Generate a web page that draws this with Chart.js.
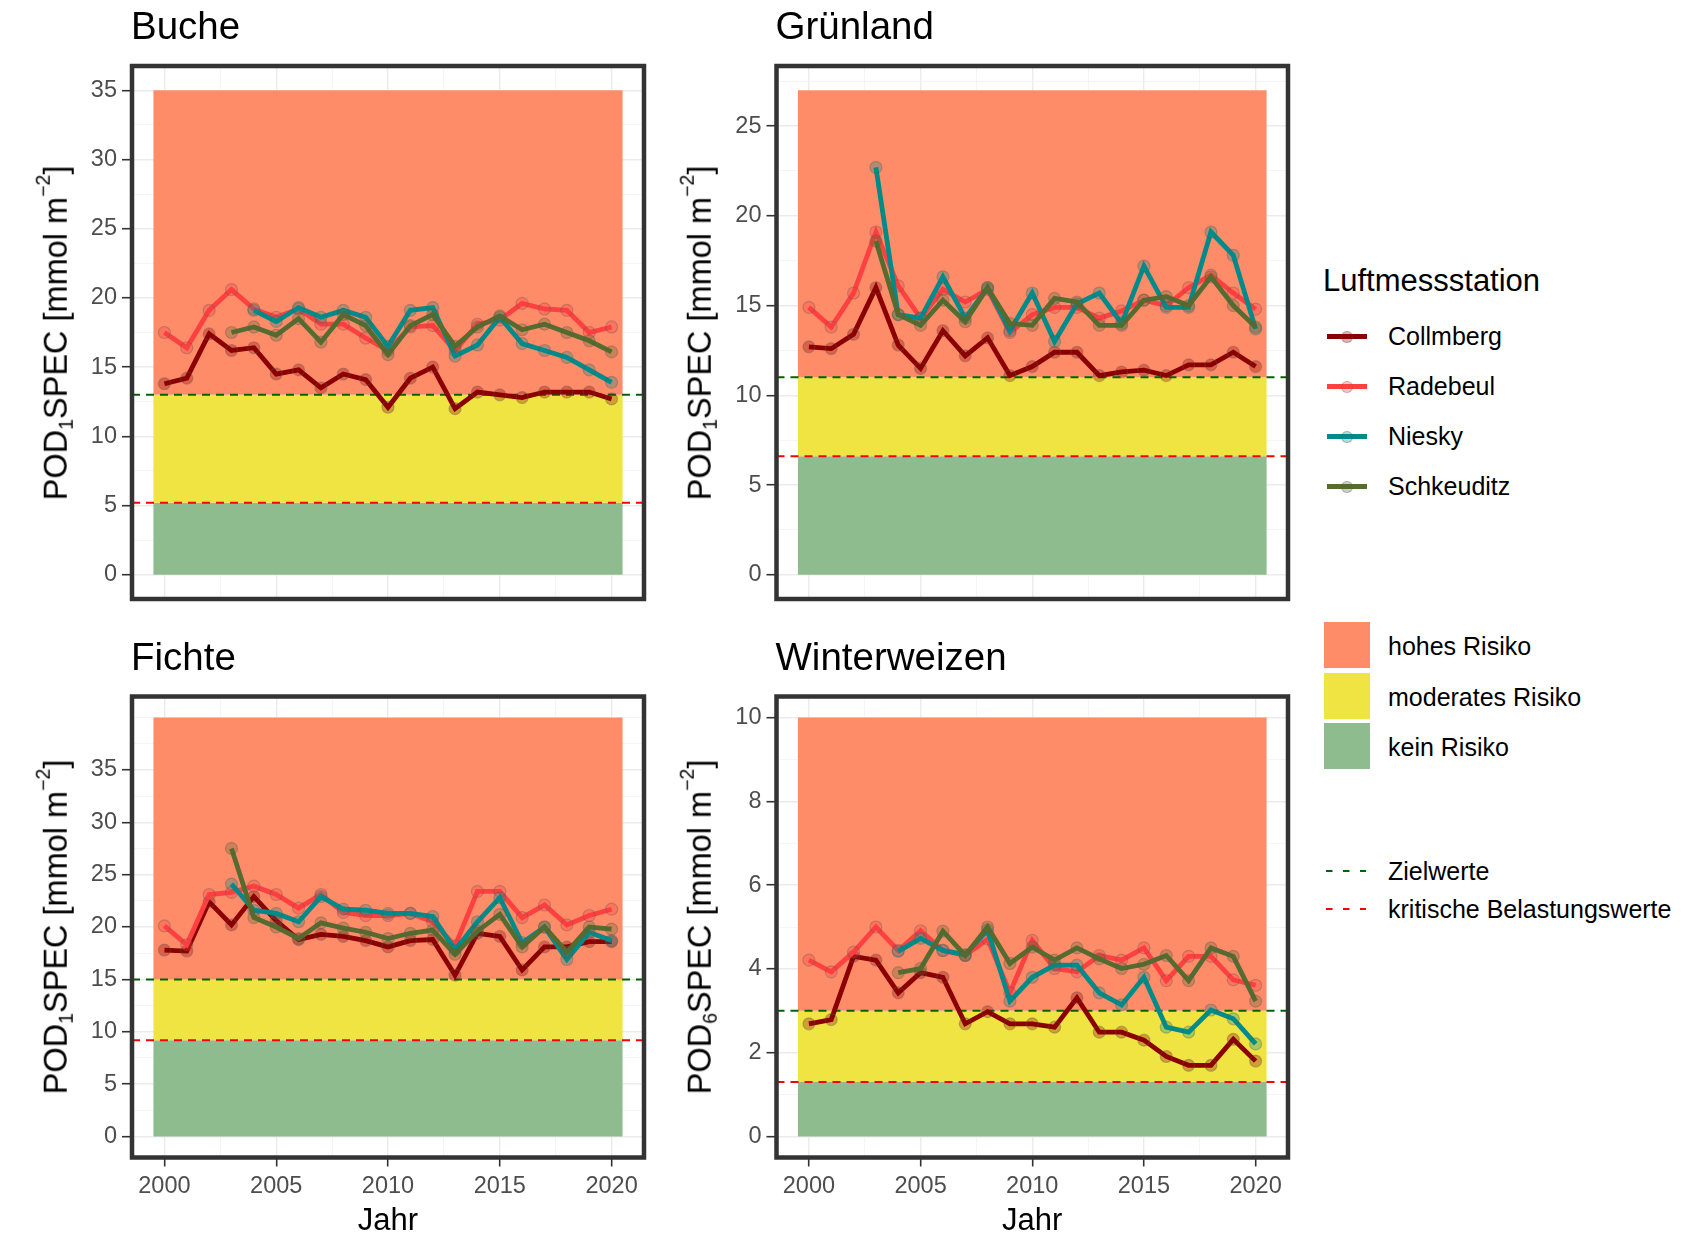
<!DOCTYPE html>
<html lang="de">
<head>
<meta charset="utf-8">
<title>POD-SPEC an sächsischen Luftmessstationen</title>
<script src="https://cdn.jsdelivr.net/npm/chart.js@4.4.1/dist/chart.umd.min.js"></script>
<style>
  html, body { margin:0; padding:0; background:#ffffff; overflow:hidden; }
  #page { position:relative; width:1707px; height:1236px; overflow:hidden;
          font-family:'Liberation Sans', Arial, sans-serif; color:#000; }
  canvas { position:absolute; }
  .abs { position:absolute; white-space:nowrap; line-height:1; }
  .panel-title { font-size:38.5px; }
  .y-title { font-size:32.5px; transform:translate(-50%,-50%) rotate(-90deg); }
  .y-title .sub { font-size:60%; position:relative; top:0.3em; }
  .y-title .sup { font-size:60%; position:relative; top:-0.88em; }
  .lg-title { font-size:31px; }
  .lg-text { font-size:25px; }
</style>
</head>
<body>
<div id="page"></div>
<script>
// ---- data -------------------------------------------------------------
const years = [2000,2001,2002,2003,2004,2005,2006,2007,2008,2009,2010,
               2011,2012,2013,2014,2015,2016,2017,2018,2019,2020];

const stations = ['Collmberg', 'Radebeul', 'Niesky', 'Schkeuditz'];

// Buche, POD1SPEC [mmol m-2]
const bucheCollmberg  = [13.8,14.2,17.4,16.2,16.4,14.5,14.8,13.5,14.5,14.1,12.1,14.2,15.0,12.0,13.2,13.0,12.8,13.2,13.2,13.2,12.7];
const bucheRadebeul   = [17.5,16.4,19.1,20.6,19.2,18.6,19.2,18.1,18.1,17.1,16.2,17.9,18.0,16.2,18.1,18.4,19.6,19.2,19.1,17.5,17.9];
const bucheNiesky     = [null,null,null,null,19.1,18.3,19.3,18.6,19.1,18.6,16.5,19.1,19.3,15.8,16.6,18.6,16.7,16.2,15.7,14.8,13.9];
const bucheSchkeuditz = [null,null,null,17.5,17.9,17.3,18.5,16.8,18.8,18.0,15.9,18.0,18.8,16.5,17.9,18.7,17.7,18.1,17.5,16.9,16.1];

// Grünland, POD1SPEC [mmol m-2]
const gruenCollmberg  = [12.7,12.6,13.4,16.0,12.8,11.5,13.6,12.2,13.2,11.1,11.6,12.4,12.4,11.1,11.3,11.4,11.1,11.7,11.7,12.4,11.6];
const gruenRadebeul   = [14.9,13.8,15.7,19.1,16.1,14.3,15.9,15.2,15.9,13.5,14.5,14.9,14.9,14.3,14.7,15.3,15.0,16.0,16.7,15.7,14.8];
const gruenNiesky     = [null,null,null,22.7,14.5,14.3,16.6,14.3,16.0,13.6,15.7,13.0,15.1,15.7,14.0,17.2,14.9,14.9,19.1,17.8,13.7];
const gruenSchkeuditz = [null,null,null,18.6,14.5,13.9,15.3,14.1,16.0,14.0,13.9,15.4,15.2,13.9,13.9,15.3,15.5,15.0,16.6,15.0,13.8];

// Fichte, POD1SPEC [mmol m-2]
const fichteCollmberg  = [17.8,17.7,22.4,20.2,22.9,20.6,18.8,19.3,19.1,18.7,18.1,18.7,18.8,15.4,19.4,19.1,15.9,18.1,18.1,18.6,18.6];
const fichteRadebeul   = [20.1,18.3,23.1,23.3,23.9,23.1,21.8,23.1,21.4,21.1,21.1,21.3,20.5,18.2,23.4,23.4,20.9,22.1,20.2,21.1,21.7];
const fichteNiesky     = [null,null,null,24.1,21.6,21.3,20.5,22.9,21.7,21.6,21.3,21.3,21.0,17.8,20.5,22.8,18.5,20.0,16.9,19.5,18.7];
const fichteSchkeuditz = [null,null,null,27.5,20.9,20.0,18.9,20.4,19.9,19.5,18.9,19.4,19.7,17.4,19.6,21.2,18.1,20.0,17.6,20.0,19.8];

// Winterweizen, POD6SPEC [mmol m-2]
const weizenCollmberg  = [2.69,2.79,4.30,4.21,3.43,3.91,3.80,2.69,2.98,2.69,2.69,2.61,3.31,2.49,2.49,2.30,1.91,1.70,1.70,2.32,1.80];
const weizenRadebeul   = [4.21,3.93,4.40,5.00,4.44,4.91,4.44,4.32,4.71,3.43,4.68,4.01,3.93,4.32,4.21,4.50,3.72,4.30,4.30,3.74,3.61];
const weizenNiesky     = [null,null,null,null,4.42,4.73,4.44,4.34,4.93,3.23,3.80,4.09,4.09,3.43,3.14,3.80,2.61,2.49,3.02,2.81,2.21];
const weizenSchkeuditz = [null,null,null,null,3.91,4.01,4.90,4.32,5.00,4.13,4.52,4.21,4.50,4.24,4.01,4.11,4.32,3.72,4.50,4.30,3.23];

// panels
const panelNames     = ['Buche', 'Grünland', 'Fichte', 'Winterweizen'];
const podIndex       = ['1', '1', '1', '6'];
const riskTop        = [35, 27, 40, 10];     // upper edge of the "hohes Risiko" band
const targetValues   = [13, 11, 15, 3];      // Zielwerte
const criticalValues = [5.2, 6.6, 9.2, 1.3]; // kritische Belastungswerte
const yTickStep      = [5, 5, 5, 2];
const yLabelMax      = [35, 25, 35, 10];
const yGridMax       = [35, 27.5, 40, 10];

const panelSeries = [
  [bucheCollmberg, bucheRadebeul, bucheNiesky, bucheSchkeuditz],
  [gruenCollmberg, gruenRadebeul, gruenNiesky, gruenSchkeuditz],
  [fichteCollmberg, fichteRadebeul, fichteNiesky, fichteSchkeuditz],
  [weizenCollmberg, weizenRadebeul, weizenNiesky, weizenSchkeuditz]
];

const xTickStep = 5;
const xLabelMin = 2000, xLabelMax = 2020;

// legend texts
const legendTitle = 'Luftmessstation';
const zoneLabels  = ['hohes Risiko', 'moderates Risiko', 'kein Risiko'];
const limitLabels = ['Zielwerte', 'kritische Belastungswerte'];
const xAxisTitle  = 'Jahr';

// ---- styles -----------------------------------------------------------
const stationColors = ['#8B0000', '#FF4040', '#008B8B', '#556B2F'];
const zoneColors    = ['#FF8C69', '#F0E442', '#8FBC8F'];
const limitColors   = ['#006400', '#FF0000'];
const FONT = "'Liberation Sans', Arial, sans-serif";
const SERIES_WIDTH = 4.8;

// ---- layout (page pixels) ---------------------------------------------
const layout = [
  { left:0,   top:0,   width:660, height:640, area:{l:132,   r:644,  t:66,    b:599},    xAxis:false },
  { left:660, top:0,   width:640, height:640, area:{l:776.5, r:1288, t:66,    b:599},    xAxis:false },
  { left:0,   top:640, width:660, height:620, area:{l:132,   r:644,  t:696.5, b:1157.5}, xAxis:true },
  { left:660, top:640, width:640, height:620, area:{l:776.5, r:1288, t:696.5, b:1157.5}, xAxis:true }
];
const Y_AXIS_W = 60;
const X_MIN = 1998.55, X_MAX = 2021.45;   // panel x limits (ggplot-like expansion)
const ZONE_X0 = 1999.5, ZONE_X1 = 2020.5; // band extent

const page = document.getElementById('page');

function rgba(hex, a) {
  const n = parseInt(hex.slice(1), 16);
  return `rgba(${(n >> 16) & 255},${(n >> 8) & 255},${n & 255},${a})`;
}
function toPoints(values) {
  return years.map((x, i) => ({ x, y: values[i] })).filter(p => p.y !== null);
}
function tickSet(lo, hi, step, labelMax) {
  const out = [];
  for (let k = 0; lo + k * step / 2 <= hi + 1e-9; k++) {
    const v = +(lo + k * step / 2).toFixed(4);
    out.push({ value: v, minor: (k % 2 === 1) || v > labelMax });
  }
  return out;
}
function gridOpts(showTicks, tickLength) {
  return {
    color: c => (c.tick && c.tick.minor) ? '#F3F3F3' : '#EBEBEB',
    lineWidth: c => (c.tick && c.tick.minor) ? 0.8 : 1.4,
    drawTicks: showTicks,
    tickLength: tickLength,
    tickWidth: 1.6,
    tickColor: c => (c.tick && c.tick.minor) ? 'rgba(0,0,0,0)' : '#333333'
  };
}

// thick dark frame drawn on top of the panel
const panelFrame = {
  id: 'panelFrame',
  afterDraw(chart) {
    const { ctx, chartArea: a } = chart;
    ctx.save();
    ctx.strokeStyle = '#333333';
    ctx.lineWidth = 4.5;
    ctx.strokeRect(a.left, a.top, a.right - a.left, a.bottom - a.top);
    ctx.restore();
  }
};

function zoneDataset(lo, hi, color) {
  return {
    data: [{ x: ZONE_X0, y: hi }, { x: ZONE_X1, y: hi }],
    fill: { value: lo },
    backgroundColor: color,
    borderColor: 'rgba(0,0,0,0)',
    borderWidth: 0,
    pointRadius: 0,
    order: 10
  };
}
function limitDataset(y, color) {
  return {
    data: [{ x: X_MIN, y }, { x: X_MAX, y }],
    borderColor: color,
    borderWidth: 2,
    borderDash: [8, 6],
    pointRadius: 0,
    fill: false,
    order: 6
  };
}

function makePanel(p) {
  const g = layout[p];
  const cv = document.createElement('canvas');
  cv.width = g.width; cv.height = g.height;
  cv.style.left = g.left + 'px'; cv.style.top = g.top + 'px';
  cv.style.width = g.width + 'px'; cv.style.height = g.height + 'px';
  page.appendChild(cv);

  const xAxisH = g.xAxis ? (g.top + g.height) - g.area.b : 0;
  const padding = {
    left: g.area.l - g.left - Y_AXIS_W,
    right: (g.left + g.width) - g.area.r,
    top: g.area.t - g.top,
    bottom: (g.top + g.height) - g.area.b - xAxisH
  };

  const top = riskTop[p], tgt = targetValues[p], crit = criticalValues[p];
  const yPad = top * 0.05;

  const datasets = [
    zoneDataset(tgt, top, zoneColors[0]),
    zoneDataset(crit, tgt, zoneColors[1]),
    zoneDataset(0, crit, zoneColors[2]),
    limitDataset(tgt, limitColors[0]),
    limitDataset(crit, limitColors[1])
  ];
  panelSeries[p].forEach((vals, k) => {
    const c = stationColors[k];
    datasets.push({
      label: stations[k],
      data: toPoints(vals),
      borderColor: c,
      borderWidth: SERIES_WIDTH,
      pointRadius: 6,
      pointBackgroundColor: rgba(c, 0.3),
      pointBorderColor: 'rgba(90,90,90,0.35)',
      pointBorderWidth: 1.2,
      fill: false,
      tension: 0,
      order: 4 - k
    });
  });

  const tickFont = { family: FONT, size: 23.5 };

  new Chart(cv, {
    type: 'line',
    data: { datasets },
    options: {
      responsive: false,
      animation: false,
      events: [],
      devicePixelRatio: 1,
      layout: { padding, autoPadding: false },
      plugins: { legend: { display: false }, tooltip: { enabled: false }, title: { display: false } },
      scales: {
        x: {
          type: 'linear',
          min: X_MIN, max: X_MAX,
          border: { display: false },
          grid: gridOpts(g.xAxis, 9),
          afterBuildTicks: s => { s.ticks = tickSet(xLabelMin, xLabelMax, xTickStep, xLabelMax); },
          afterFit: s => { s.height = xAxisH; },
          ticks: {
            display: g.xAxis,
            autoSkip: false,
            maxRotation: 0,
            padding: 6,
            color: '#4D4D4D',
            font: tickFont,
            callback: (v, i, ticks) => ticks[i].minor ? '' : String(v)
          },
          title: {
            display: g.xAxis,
            text: xAxisTitle,
            color: '#000000',
            font: { family: FONT, size: 31 },
            padding: { top: 0, bottom: 20 }
          }
        },
        y: {
          type: 'linear',
          min: -yPad, max: top + yPad,
          border: { display: false },
          grid: gridOpts(true, 10),
          afterBuildTicks: s => { s.ticks = tickSet(0, yGridMax[p], yTickStep[p], yLabelMax[p]); },
          afterFit: s => { s.width = Y_AXIS_W; },
          ticks: {
            autoSkip: false,
            padding: 5,
            color: '#4D4D4D',
            font: tickFont,
            callback: (v, i, ticks) => ticks[i].minor ? '' : String(v)
          }
        }
      }
    },
    plugins: [panelFrame]
  });

  // panel title
  const t = document.createElement('div');
  t.className = 'abs panel-title';
  t.textContent = panelNames[p];
  t.style.left = (g.area.l - 1) + 'px';
  t.style.top = (g.area.t - 59) + 'px';
  page.appendChild(t);

  // y axis title with sub- and superscript
  const yt = document.createElement('div');
  yt.className = 'abs y-title';
  yt.innerHTML = 'POD<span class="sub">' + podIndex[p] + '</span>SPEC [mmol m<span class="sup">\u22122</span>]';
  yt.style.left = (g.area.l - 76.5) + 'px';
  yt.style.top = ((g.area.t + g.area.b) / 2) + 'px';
  page.appendChild(yt);
}

for (let p = 0; p < 4; p++) makePanel(p);

// ---- shared legend ----------------------------------------------------
function addText(cls, text, left, centerY, size) {
  const d = document.createElement('div');
  d.className = 'abs ' + cls;
  d.textContent = text;
  d.style.left = left + 'px';
  d.style.top = (centerY - 0.49 * size) + 'px';
  page.appendChild(d);
}
function addBox(left, top, w, h, bg, extra) {
  const d = document.createElement('div');
  d.style.position = 'absolute';
  d.style.left = left + 'px'; d.style.top = top + 'px';
  d.style.width = w + 'px'; d.style.height = h + 'px';
  d.style.background = bg;
  if (extra) Object.assign(d.style, extra);
  page.appendChild(d);
}

addText('lg-title', legendTitle, 1323, 280, 31);

const stationRows = [336.5, 386.5, 436.5, 486.5];
stations.forEach((name, k) => {
  const cy = stationRows[k];
  addBox(1326.5, cy - 2.4, 40, 4.8, stationColors[k]);
  addBox(1340.5, cy - 6, 12, 12, rgba(stationColors[k], 0.3),
         { borderRadius: '50%', boxSizing: 'border-box', border: '1px solid rgba(90,90,90,0.3)' });
  addText('lg-text', name, 1388, cy, 25);
});

const zoneRows = [622, 672.5, 723];
zoneLabels.forEach((name, k) => {
  addBox(1323.5, zoneRows[k], 46.5, 46, zoneColors[k]);
  addText('lg-text', name, 1388, zoneRows[k] + 24.5, 25);
});

const limitRows = [871, 909];
limitLabels.forEach((name, k) => {
  const svgNS = 'http://www.w3.org/2000/svg';
  const svg = document.createElementNS(svgNS, 'svg');
  svg.setAttribute('width', '42'); svg.setAttribute('height', '6');
  svg.style.position = 'absolute';
  svg.style.left = '1326px'; svg.style.top = (limitRows[k] - 3) + 'px';
  const ln = document.createElementNS(svgNS, 'line');
  ln.setAttribute('x1', '0'); ln.setAttribute('x2', '40');
  ln.setAttribute('y1', '3'); ln.setAttribute('y2', '3');
  ln.setAttribute('stroke', limitColors[k]);
  ln.setAttribute('stroke-width', '2');
  ln.setAttribute('stroke-dasharray', '6.5 10.5');
  svg.appendChild(ln);
  page.appendChild(svg);
  addText('lg-text', name, 1388, limitRows[k], 25);
});
</script>
</body>
</html>
